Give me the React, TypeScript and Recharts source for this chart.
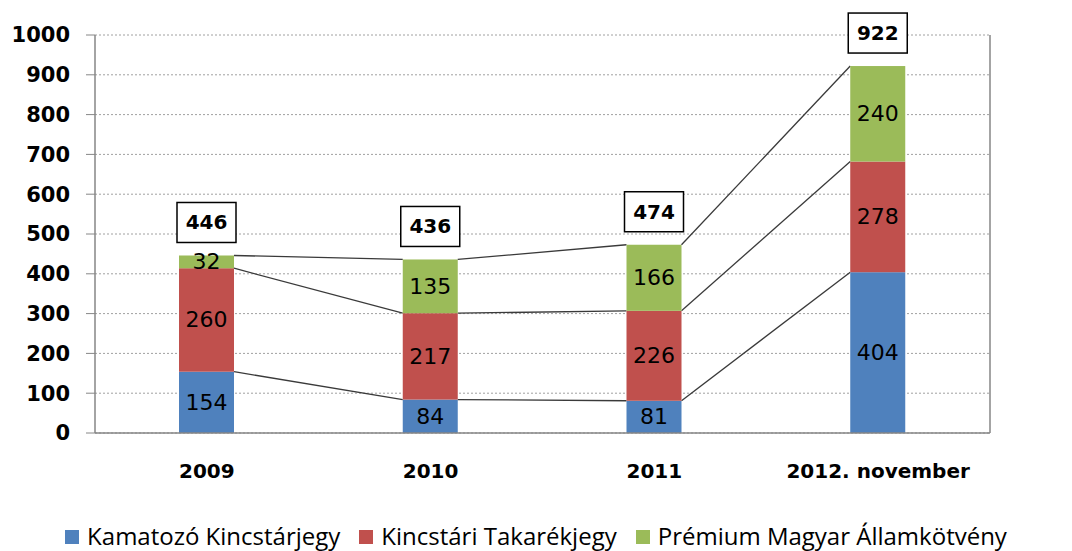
import React from 'react';
import { ComposedChart, Bar, XAxis, YAxis, CartesianGrid, Legend, LabelList } from 'recharts';

const categories = ['2009', '2010', '2011', '2012. november'];
const kamatozo = [154, 84, 81, 404];
const takarek = [260, 217, 226, 278];
const premium = [32, 135, 166, 240];
const totals = [446, 436, 474, 922];
const yTicks = [0, 100, 200, 300, 400, 500, 600, 700, 800, 900, 1000];
const seriesNames = ['Kamatozó Kincstárjegy', 'Kincstári Takarékjegy', 'Prémium Magyar Államkötvény'];
const seriesColors = ['#4F81BD', '#C0504D', '#9BBB59'];
const seriesKeys = ['k', 't', 'p'];
const seriesArrays = [kamatozo, takarek, premium];

const CHART_W = 1072;
const CHART_H = 551;
const LEFT_W = 95;
const RIGHT_W = 82;
const PLOT_W = CHART_W - LEFT_W - RIGHT_W;
const BAND = PLOT_W / categories.length;

const data = categories.map((name, i) => ({
  name,
  k: kamatozo[i],
  t: takarek[i],
  p: premium[i],
  total: totals[i],
}));

const cum = (s: number, i: number) => {
  let sum = 0;
  for (let j = 0; j <= s; j++) sum += seriesArrays[j][i];
  return sum;
};

const makeShape = (s: number) => (props: any) => {
  const { x, y, width, height, fill, index } = props;
  const val = seriesArrays[s][index];
  const k = val ? height / val : 0;
  let line = null;
  if (index < categories.length - 1) {
    const yNext = y + (cum(s, index) - cum(s, index + 1)) * k;
    line = (
      <line x1={x + width} y1={y} x2={x + BAND} y2={yNext} stroke="#3a3a3a" strokeWidth={1.3} />
    );
  }
  return (
    <g>
      <rect x={x} y={y} width={width} height={height} fill={fill} />
      {line}
    </g>
  );
};

const TotalLabel = (props: any) => {
  const { x, y, width, index } = props;
  const cx = x + width / 2;
  const cy = y - 33;
  return (
    <g>
      <rect x={cx - 29.5} y={cy - 20} width={59} height={40} fill="#fff" stroke="#000" strokeWidth={1.5} />
      <text x={cx} y={cy} textAnchor="middle" dominantBaseline="central" fontFamily="DejaVu Sans" fontWeight="bold" fontSize={20} fill="#000">
        {totals[index]}
      </text>
    </g>
  );
};

const SegLabel = (props: any) => {
  const { x, y, width, height, value } = props;
  return (
    <text x={x + width / 2} y={y + height / 2} textAnchor="middle" dominantBaseline="central" fontFamily="DejaVu Sans" fontSize={22} fill="#000">
      {value}
    </text>
  );
};

const LegendContent = () => (
  <div style={{ height: 48, display: 'flex', justifyContent: 'center', alignItems: 'flex-end', fontFamily: '"Open Sans", sans-serif', fontSize: 24, color: '#000', lineHeight: '24px' }}>
    {seriesNames.map((n, i) => (
      <div key={n} style={{ display: 'flex', alignItems: 'center', marginRight: i < 2 ? 19 : 0, paddingBottom: 3 }}>
        <span style={{ display: 'inline-block', width: 14, height: 14, background: seriesColors[i], marginRight: 8, position: 'relative', top: 1 }} />
        <span>{n}</span>
      </div>
    ))}
  </div>
);

const yTickStyle = { fontFamily: 'DejaVu Sans', fontWeight: 'bold', fontSize: 21, fill: '#000' } as any;
const xTickStyle = { fontFamily: 'DejaVu Sans', fontWeight: 'bold', fontSize: 20, fill: '#000' } as any;

export default function App() {
  return (
    <div style={{ position: 'absolute', left: 0, top: 0, width: CHART_W, height: CHART_H, background: '#fff' }}>
      <ComposedChart width={CHART_W} height={CHART_H} data={data} margin={{ top: 35, right: 0, bottom: 0, left: 0 }}>
        <CartesianGrid yAxisId="left" vertical={false} strokeDasharray="2 2" stroke="#a0a0a0" />
        <XAxis dataKey="name" height={70} tickLine={false} tickSize={0} tickMargin={31} axisLine={{ stroke: '#868686', strokeWidth: 1.5 }} tick={xTickStyle} interval={0} />
        <YAxis yAxisId="left" width={LEFT_W} domain={[0, 1000]} ticks={yTicks} tickSize={9} tickMargin={16} axisLine={{ stroke: '#868686', strokeWidth: 1.5 }} tickLine={{ stroke: '#868686' }} tick={yTickStyle} interval={0} />
        <YAxis yAxisId="right" orientation="right" width={RIGHT_W} domain={[0, 1000]} ticks={yTicks} tickSize={8} tickMargin={15} axisLine={{ stroke: '#868686', strokeWidth: 1.5 }} tickLine={{ stroke: '#868686' }} tick={yTickStyle} interval={0} />
        <Legend verticalAlign="bottom" content={<LegendContent />} />
        {seriesKeys.map((key, s) => (
          <Bar key={key} yAxisId="left" dataKey={key} name={seriesNames[s]} stackId="a" fill={seriesColors[s]} barSize={55} isAnimationActive={false} shape={makeShape(s)}>
            <LabelList dataKey={key} content={<SegLabel />} />
            {s === 2 ? <LabelList dataKey="total" content={<TotalLabel />} /> : null}
          </Bar>
        ))}
      </ComposedChart>
    </div>
  );
}
